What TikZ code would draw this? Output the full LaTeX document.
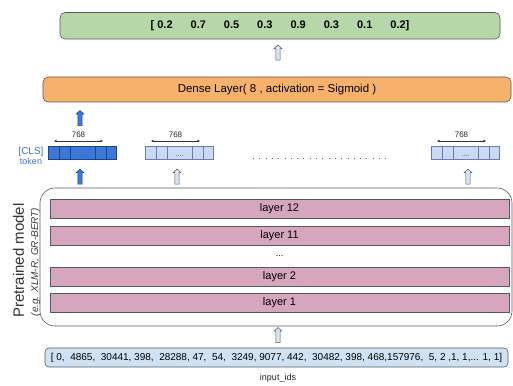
\documentclass[tikz,border=0pt]{standalone}
\usepackage{fontspec}
\setmainfont{Liberation Sans}
\usetikzlibrary{shapes.arrows,arrows.meta}
\definecolor{bordergray}{HTML}{595959}
\definecolor{outgreen}{HTML}{B6D7A8}
\definecolor{denseorange}{HTML}{F6B26B}
\definecolor{layerpink}{HTML}{D5A6BD}
\definecolor{inputblue}{HTML}{CFE2F3}
\definecolor{clsblue}{HTML}{3C78D8}
\definecolor{clsdark}{HTML}{1C4587}
\definecolor{toklight}{HTML}{C9DAF8}
\definecolor{tokdark}{HTML}{6D7F9C}
\definecolor{arrowfill}{HTML}{D6E4F4}
\definecolor{clstext}{HTML}{3C78D8}
\begin{document}
\begin{tikzpicture}[x=1pt,y=-1pt,
  base/.style={draw=bordergray, line width=0.6pt, inner sep=0pt},
  greenbox/.style={base, fill=outgreen, rounded corners=5pt},
  densebox/.style={base, fill=denseorange, rounded corners=5pt},
  layerbox/.style={base, fill=layerpink, minimum width=459pt, minimum height=19pt, font=\fontsize{11}{13}\selectfont},
  inbox/.style={base, fill=inputblue, rounded corners=4pt},
  tok/.style={line width=0.6pt, minimum width=68pt, minimum height=13pt, inner sep=0pt},
  dimarrow/.style={{Stealth[length=3pt,width=2.6pt]}-{Stealth[length=3pt,width=2.6pt]}, line width=0.4pt, draw=black!80},
  uparrow/.style={single arrow, shape border rotate=90, draw=bordergray, fill=arrowfill, line width=0.5pt,
    minimum height=15pt, inner sep=1.9pt, single arrow head extend=1.7pt, single arrow tip angle=95},
  clsarrow/.style={uparrow, fill=clsblue, draw=clsdark},
]
\useasboundingbox (0,0) rectangle (513,385);

% output vector
\node[greenbox, minimum width=440pt, minimum height=26.5pt, font=\bfseries\fontsize{11}{13}\selectfont] (out) at (280,25.75)
  {[ 0.2\hspace{18pt}0.7\hspace{18pt}0.5\hspace{18pt}0.3\hspace{18pt}0.9\hspace{18pt}0.3\hspace{18pt}0.1\hspace{18pt}0.2]};

\node[uparrow] (a1) at (278,53.5) {};

% dense layer
\node[densebox, minimum width=468pt, minimum height=25pt, font=\fontsize{11.5}{13}\selectfont] (dense) at (277,89.5)
  {Dense Layer( 8 , activation = Sigmoid )};

\node[clsarrow] (a2) at (80,119) {};

% CLS label
\node[text=clstext, font=\fontsize{10}{12}\selectfont, anchor=base] (clslab) at (31,154) {[CLS]};
\node[text=clstext, font=\fontsize{9}{11}\selectfont, anchor=base] (toklab) at (31,164) {token};

% tokens
\foreach \i/\x/\f/\d in {cls/48/clsblue/clsdark, tb/145/toklight/tokdark, tc/431/toklight/tokdark}{
  \node[tok, fill=\f, draw=\d, anchor=north west] (\i) at (\x,146) {};
  \foreach \c in {11,22,47,58}
    \draw[draw=\d, line width=0.6pt] ([xshift=\c pt]\i.north west) -- ([xshift=\c pt]\i.south west);
  \node[font=\fontsize{7}{7}\selectfont, text=black!70, anchor=base] (\i dots) at (\x+34.5,156.5) {....};
  \node[font=\fontsize{8}{9}\selectfont, text=black!85] (\i lab) at (\x+30.5,134.5) {768};
  \coordinate (\i L) at (\x+6,141);
  \coordinate (\i R) at (\x+55,141);
  \draw[dimarrow] (\i L) -- (\i R);
}

% dotted continuation
\coordinate (dotsA) at (253,158);
\coordinate (dotsB) at (390,158);
\draw[draw=black!60, line width=0.7pt, dash pattern=on 0.7pt off 5.6pt] (dotsA) -- (dotsB);

\node[clsarrow] (a3) at (80,177.5) {};
\node[uparrow] (a4) at (177,177.5) {};
\node[uparrow] (a5) at (468,177.5) {};

% pretrained model
\draw[draw=bordergray, line width=0.6pt, rounded corners=15pt] (40,188) rectangle (512,326);
\node[layerbox] (l12) at (279.5,208.5) {layer 12};
\node[layerbox] (l11) at (279.5,236) {layer 11};
\node[font=\fontsize{9}{10}\selectfont] (ldots) at (279.5,256) {...};
\node[layerbox] (l2) at (279.5,276.5) {layer 2};
\node[layerbox] (l1) at (279.5,302.5) {layer 1};

\node[rotate=90, font=\fontsize{15}{17}\selectfont, text=black!80] (ptm) at (18.5,260.5) {Pretrained model};
\node[rotate=90, font=\itshape\fontsize{10}{12}\selectfont, text=black!75] (eg) at (35.5,262) {(e.g. XLM-R, GR-BERT)};

\node[uparrow] (a6) at (278,336) {};

% input ids
\node[inbox, minimum width=463pt, minimum height=19pt, font=\fontsize{10}{12}\selectfont] (inp) at (276.5,357.5)
  {[ 0,\ \ 4865,\ \ 30441, 398,\ \ 28288, 47,\ \ 54,\ \ 3249, 9077, 442,\ \ 30482, 398, 468,157976,\ \ 5, 2 ,1, 1,... 1, 1]};
\node[font=\fontsize{9}{10}\selectfont, text=black!85] (inlab) at (278,378.5) {input\_ids};
\end{tikzpicture}
\end{document}
